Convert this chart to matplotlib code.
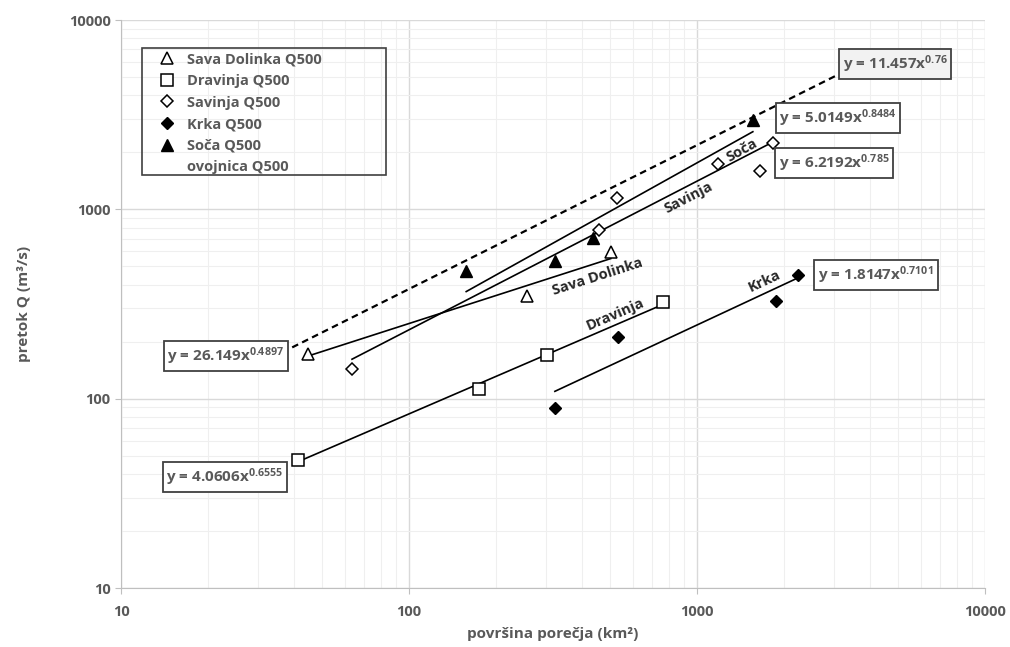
import numpy as np
import matplotlib
matplotlib.use('Agg')
import matplotlib.pyplot as plt
from matplotlib import ticker
from matplotlib.lines import Line2D
from matplotlib.patches import Rectangle

plt.rcParams['font.family'] = ['Open Sans', 'DejaVu Sans']
plt.rcParams['mathtext.default'] = 'regular'

## data
#-------------------------------------------------------------------------------
sava_x = [44.6, 257, 502]
sava_y = [172, 348, 594]
drav_x = [41.2, 175, 301, 762]
drav_y = [47.4, 112, 170, 324]
savi_x = [63.4, 457, 527, 1183, 1656, 1837]
savi_y = [143, 778, 1148, 1733, 1593, 2237]
krka_x = [321, 532, 1880, 2244]
krka_y = [89, 211, 328, 450]
soca_x = [158, 321, 436, 1563]
soca_y = [472, 533, 705, 2966]

# power trendlines y = a*x^b
sava_fit = (26.149, 0.4897)
drav_fit = (4.0606, 0.6555)
savi_fit = (6.2192, 0.785)
krka_fit = (1.8147, 0.7101)
soca_fit = (5.0149, 0.8484)
ovoj_fit = (11.457, 0.76)
ovoj_range = [39.3, 3013]

gray = '#595959'

fig = plt.figure(figsize=(10.1, 6.47), dpi=100)
ax = fig.add_axes([121/1010, 1-588/647, 864/1010, 568/647])
ax.set_xscale('log')
ax.set_yscale('log')
ax.set_xlim(10, 10000)
ax.set_ylim(10, 10000)

ax.grid(True, which='major', color='#d9d9d9', lw=1.0)
ax.grid(True, which='minor', color='#efefef', lw=0.8)
ax.set_axisbelow(True)
for s in ['top', 'right']:
    ax.spines[s].set_visible(False)
for s in ['left', 'bottom']:
    ax.spines[s].set_color('#bfbfbf')
ax.tick_params(which='major', length=4, color='#bfbfbf', labelcolor=gray, labelsize=10.5)
ax.tick_params(which='minor', length=0)
fmt = ticker.FuncFormatter(lambda v, p: f'{v:g}')
ax.xaxis.set_major_formatter(fmt)
ax.yaxis.set_major_formatter(fmt)
ax.xaxis.set_minor_formatter(ticker.NullFormatter())
ax.yaxis.set_minor_formatter(ticker.NullFormatter())
for lab in ax.get_xticklabels() + ax.get_yticklabels():
    lab.set_fontweight('bold')
ax.tick_params(axis='x', pad=8)

def trend(xs, fit, **kw):
    xx = np.logspace(np.log10(min(xs)), np.log10(max(xs)), 50)
    ax.plot(xx, fit[0]*xx**fit[1], **kw)

trend(sava_x, sava_fit, color='black', lw=1.2)
trend(drav_x, drav_fit, color='black', lw=1.2)
trend(savi_x, savi_fit, color='black', lw=1.2)
trend(krka_x, krka_fit, color='black', lw=1.2)
trend(soca_x, soca_fit, color='black', lw=1.2)
trend(ovoj_range, ovoj_fit, color='black', lw=1.6, ls=(0, (3, 2)))

ax.plot(sava_x, sava_y, '^', ms=8, mfc='white', mec='black', mew=1.1, ls='none', label='Sava Dolinka Q500')
ax.plot(drav_x, drav_y, 's', ms=9, mfc='white', mec='black', mew=1.1, ls='none', label='Dravinja Q500')
ax.plot(savi_x, savi_y, 'D', ms=6, mfc='white', mec='black', mew=1.1, ls='none', label='Savinja Q500')
ax.plot(krka_x, krka_y, 'D', ms=6, mfc='black', mec='black', ls='none', label='Krka Q500')
ax.plot(soca_x, soca_y, '^', ms=8, mfc='black', mec='black', ls='none', label='Soča Q500')

handles, labels = ax.get_legend_handles_labels()
handles.append(Line2D([], [], ls='none'))
labels.append('ovojnica Q500')
leg = ax.legend(handles, labels, loc='upper left', bbox_to_anchor=(33/864, 1-28/568),
                frameon=False, fontsize=10.5,
                handlelength=1.2, handletextpad=0.75, labelspacing=0.52, borderpad=0.3,
                borderaxespad=0)
for t in leg.get_texts():
    t.set_color(gray)
    t.set_fontweight('bold')
    t.set_fontsize(10.5)
# legend frame drawn by hand, it is wider than the entries
fig.patches.append(Rectangle((142/1010, 1-175/647), 244/1010, 127/647, transform=fig.transFigure,
                             fill=False, ec='#404040', lw=1.2, zorder=5))

# line name labels along the trendlines
fig.canvas.draw()
def angle(fit):
    p1 = ax.transData.transform((100, fit[0]*100**fit[1]))
    p2 = ax.transData.transform((1000, fit[0]*1000**fit[1]))
    return np.degrees(np.arctan2(p2[1]-p1[1], p2[0]-p1[0]))

names = ['Soča', 'Savinja', 'Sava Dolinka', 'Dravinja', 'Krka']
name_pos = [(1432, 2057), (931, 1148), (450, 439), (519, 280), (1710, 418)]
name_fit = [soca_fit, savi_fit, sava_fit, drav_fit, krka_fit]
for n, (px, py), f in zip(names, name_pos, name_fit):
    ax.text(px, py, n, rotation=angle(f), rotation_mode='anchor', ha='center', va='center',
            fontsize=10.5, fontweight='bold', color='#262626')

# equation boxes
eqs = [r'y = 11.457x$^{0.76}$', r'y = 5.0149x$^{0.8484}$', r'y = 6.2192x$^{0.785}$',
       r'y = 1.8147x$^{0.7101}$', r'y = 26.149x$^{0.4897}$', r'y = 4.0606x$^{0.6555}$']
eq_pos = [(895, 64), (838, 118), (834, 163), (876, 275), (226, 356), (225, 477)]
eq_fill = ['#f2f2f2', 'white', 'white', 'white', 'white', 'white']
for e, (px, py), fc in zip(eqs, eq_pos, eq_fill):
    fig.text(px/1010, 1-py/647, e, ha='center', va='center', fontsize=11, fontweight='bold',
             color=gray, bbox=dict(boxstyle='square,pad=0.25', fc=fc, ec='#404040', lw=1.3))

ax.set_xlabel('površina porečja (km²)', fontsize=11, fontweight='bold', color=gray, labelpad=6)
ax.set_ylabel('pretok Q (m³/s)', fontsize=11, fontweight='bold', color=gray, labelpad=27)

fig.savefig('out.png', dpi=100)
